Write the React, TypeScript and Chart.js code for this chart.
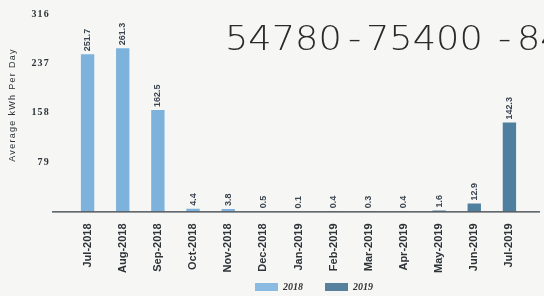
import React, { useEffect, useRef } from "react";
import { Chart, registerables } from "chart.js";

Chart.register(...registerables);

const categories = [
  "Jul-2018", "Aug-2018", "Sep-2018", "Oct-2018", "Nov-2018", "Dec-2018",
  "Jan-2019", "Feb-2019", "Mar-2019", "Apr-2019", "May-2019", "Jun-2019", "Jul-2019",
];
const values2018 = [251.7, 261.3, 162.5, 4.4, 3.8, 0.5, null, null, null, null, null, null, null];
const values2019 = [null, null, null, null, null, null, 0.1, 0.4, 0.3, 0.4, 1.6, 12.9, 142.3];
const yTicks = [79, 158, 237, 316];
const yTitle = "Average kWh Per Day";
const handNote = ["54780", "-", "75400", "-", "84"];

const barLabels = {
  id: "barLabels",
  afterDatasetsDraw(chart: any) {
    const ctx = chart.ctx;
    ctx.save();
    ctx.fillStyle = "#3a4550";
    ctx.font = "bold 9px 'Liberation Sans'";
    ctx.textAlign = "left";
    ctx.textBaseline = "middle";
    chart.data.datasets.forEach((ds: any, di: number) => {
      const meta = chart.getDatasetMeta(di);
      meta.data.forEach((el: any, i: number) => {
        const v = ds.data[i];
        if (v === null || v === undefined) return;
        ctx.save();
        ctx.translate(el.x, el.y - 3);
        ctx.rotate(-Math.PI / 2);
        ctx.fillText(v.toFixed(1), 0, 0);
        ctx.restore();
      });
    });
    ctx.restore();
  },
};

const decor = {
  id: "decor",
  beforeDraw(chart: any) {
    const ctx = chart.ctx;
    ctx.save();
    ctx.fillStyle = "#f6f6f4";
    ctx.fillRect(0, 0, chart.width, chart.height);
    ctx.restore();
  },
  afterDraw(chart: any) {
    const ctx = chart.ctx;
    const ys = chart.scales.y;
    const y0 = ys.getPixelForValue(0);
    ctx.save();
    // baseline axis
    ctx.strokeStyle = "#333a40";
    ctx.lineWidth = 1.2;
    ctx.beginPath();
    ctx.moveTo(52, y0 + 0.5);
    ctx.lineTo(540, y0 + 0.5);
    ctx.stroke();
    // y tick labels
    ctx.fillStyle = "#2e3338";
    ctx.font = "bold 10px 'Liberation Serif'";
    (ctx as any).letterSpacing = "1.2px";
    ctx.textAlign = "right";
    ctx.textBaseline = "middle";
    yTicks.forEach((t) => ctx.fillText(String(t), 50, ys.getPixelForValue(t)));
    // y title
    ctx.save();
    (ctx as any).letterSpacing = "1.3px";
    ctx.font = "9px 'Liberation Sans'";
    ctx.textAlign = "center";
    ctx.translate(13, 105);
    ctx.rotate(-Math.PI / 2);
    ctx.fillText(yTitle, 0, 0);
    ctx.restore();
    (ctx as any).letterSpacing = "0px";
    // legend
    const legendSwatch = ["#8bbbe0", "#56809c"];
    const legendX = [255, 325];
    ctx.font = "italic bold 10px 'Liberation Serif'";
    ctx.textAlign = "left";
    ctx.textBaseline = "middle";
    chart.data.datasets.forEach((ds: any, i: number) => {
      ctx.fillStyle = legendSwatch[i];
      ctx.fillRect(legendX[i], 283, 23, 8);
      ctx.fillStyle = "#333";
      ctx.fillText(ds.label, legendX[i] + 28, 287.5);
    });
    // handwritten note
    ctx.fillStyle = "#2a2a2a";
    ctx.font = "200 34px 'DejaVu Sans'";
    ctx.textAlign = "left";
    ctx.textBaseline = "alphabetic";
    const xs = [225, 348, 366, 498, 517];
    handNote.forEach((s, i) => {
      ctx.save();
      ctx.translate(xs[i], 50);
      ctx.scale(1.08, 1);
      ctx.fillText(s, 0, 0);
      ctx.restore();
    });
    ctx.restore();
  },
};

export default function App() {
  const ref = useRef<HTMLCanvasElement>(null);
  useEffect(() => {
    document.body.style.margin = "0";
    const chart = new Chart(ref.current!, {
      type: "bar",
      data: {
        labels: categories,
        datasets: [
          { label: "2018", data: values2018, backgroundColor: "#7db2dc", barPercentage: 0.38, categoryPercentage: 1 },
          { label: "2019", data: values2019, backgroundColor: "#4f7f9f", barPercentage: 0.38, categoryPercentage: 1 },
        ],
      },
      options: {
        animation: false,
        responsive: false,
        skipNull: true,
        layout: { padding: { top: 14, right: 17, left: 0, bottom: 19 } },
        plugins: {
          tooltip: { enabled: false },
          legend: { display: false },
        },
        scales: {
          x: {
            grid: { display: false },
            border: { display: false },
            ticks: {
              minRotation: 90,
              maxRotation: 90,
              autoSkip: false,
              color: "#2e3338",
              padding: 4,
              font: { size: 11, family: "'Liberation Sans'", weight: "bold" },
            },
          },
          y: {
            min: 0,
            max: 316,
            afterFit(axis: any) {
              axis.width = 70;
            },
            grid: { display: false },
            border: { display: false },
            ticks: { display: false },
          },
        },
      },
      plugins: [barLabels, decor],
    } as any);
    return () => chart.destroy();
  }, []);
  return <canvas ref={ref} width={544} height={296} style={{ display: "block" }} />;
}
